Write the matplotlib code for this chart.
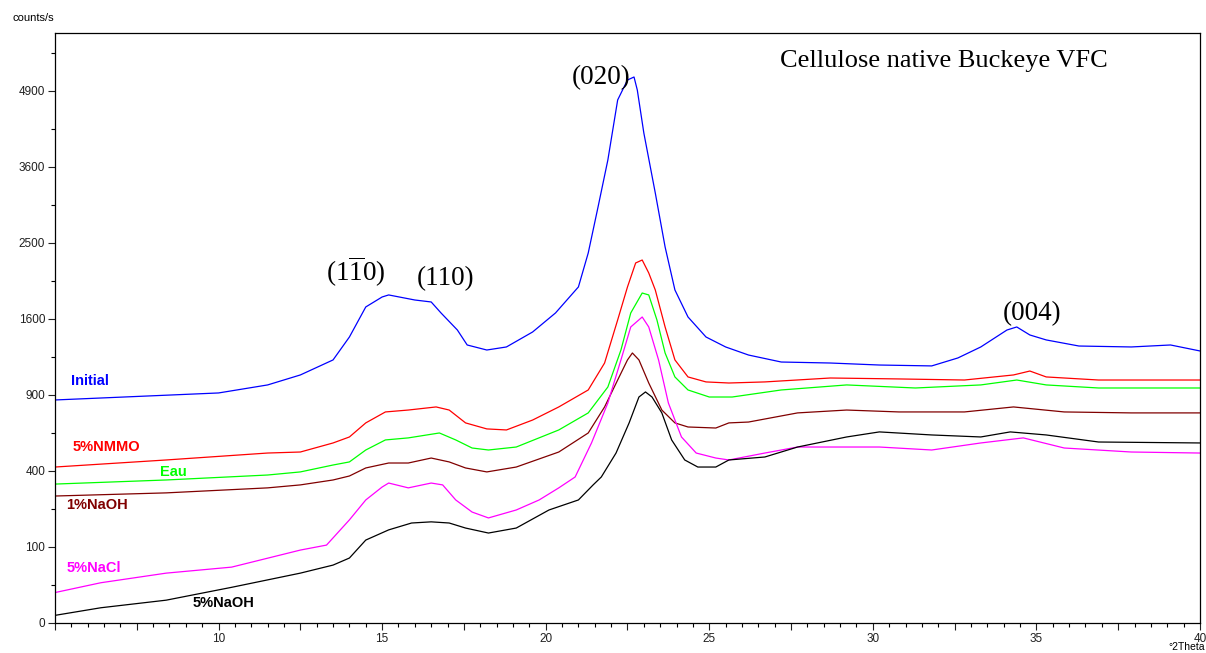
import matplotlib
matplotlib.use("Agg")
import matplotlib.pyplot as plt
import numpy as np
from matplotlib.ticker import MultipleLocator, FixedLocator, FuncFormatter

plt.rcParams['font.family'] = ['Liberation Sans', 'DejaVu Sans']
plt.rcParams['mathtext.fontset'] = 'custom'
plt.rcParams['mathtext.rm'] = 'Liberation Serif'

# values (2theta in degrees, intensity in counts/s)
tth_initial = [5, 10, 11.5, 12.5, 13.5, 14, 14.5, 15, 15.2, 16, 16.5, 16.8, 17.3, 17.6,
               18.2, 18.8, 19.6, 20.3, 21, 21.3, 21.6, 21.9, 22.2, 22.5, 22.7, 22.8, 23.0,
               23.35, 23.65, 23.95, 24.35, 24.9, 25.5, 26.2, 27.2, 28.7, 30.2, 31.8, 32.6,
               33.3, 34.1, 34.4, 34.8, 35.3, 36.3, 37.9, 39.1, 40]
cps_initial = [861, 916, 981, 1065, 1198, 1416, 1729, 1840, 1863, 1806, 1784, 1664, 1486, 1338,
               1290, 1319, 1466, 1664, 1955, 2370, 2996, 3711, 4736, 5105, 5161, 4918, 4157,
               3201, 2448, 1920, 1621, 1416, 1319, 1243, 1179, 1170, 1152, 1144, 1216,
               1319, 1486, 1517, 1436, 1387, 1328, 1319, 1338, 1281]

tth_nmmo = [5, 8.4, 11.5, 12.5, 13.5, 14, 14.5, 15.1, 15.8, 16.65, 17.05, 17.55, 18.2, 18.8,
            19.6, 20.4, 21.3, 21.8, 22.2, 22.5, 22.75, 22.95, 23.15, 23.35, 23.65, 23.95,
            24.35, 24.9, 25.6, 26.7, 28.7, 30.8, 32.8, 34.3, 34.8, 35.3, 36.9, 40]
cps_nmmo = [421, 460, 500, 506, 561, 599, 693, 771, 785, 808, 785, 693, 652, 645,
            713, 808, 940, 1170, 1590, 1955, 2244, 2281, 2121, 1920, 1517, 1198,
            1048, 1006, 997, 1006, 1039, 1031, 1022, 1065, 1099, 1048, 1022, 1022]

tth_eau = [5, 8.4, 11.5, 12.5, 13.5, 14, 14.5, 15.1, 15.8, 16.75, 17.25, 17.75, 18.25, 19.1,
           20.4, 21.3, 21.9, 22.3, 22.6, 22.95, 23.15, 23.4, 23.65, 23.95, 24.35, 25, 25.7,
           27.2, 29.2, 31.3, 33.3, 34.4, 35.3, 36.9, 40]
cps_eau = [334, 354, 379, 395, 432, 449, 518, 580, 593, 625, 580, 530, 518, 536,
           645, 764, 964, 1290, 1664, 1885, 1863, 1590, 1262, 1048, 940, 884, 884,
           940, 981, 956, 981, 1022, 981, 956, 956]

tth_naoh1 = [5, 8.4, 11.5, 12.5, 13.5, 14, 14.5, 15.2, 15.8, 16.5, 17.05, 17.55, 18.2, 19.1,
             20.4, 21.3, 21.8, 22.2, 22.5, 22.65, 22.85, 23.15, 23.55, 23.95, 24.35, 25.2,
             25.6, 26.2, 27.7, 29.2, 30.8, 32.8, 34.3, 35.85, 37.9, 40]
cps_naoh1 = [279, 293, 316, 330, 354, 374, 416, 443, 443, 471, 449, 416, 395, 421,
             506, 625, 808, 1022, 1198, 1262, 1198, 997, 785, 693, 665, 658,
             693, 699, 764, 785, 771, 771, 808, 771, 764, 764]

tth_nacl = [5, 6.4, 8.4, 10.4, 12.5, 13.3, 14, 14.5, 15, 15.2, 15.8, 16.5, 16.85, 17.25,
            17.75, 18.25, 19.1, 19.8, 20.4, 20.9, 21.4, 21.9, 22.3, 22.6, 22.95, 23.15,
            23.45, 23.75, 24.15, 24.6, 25.2, 25.6, 26.7, 27.7, 28.7, 30.2, 31.8, 33.3,
            34.6, 35.85, 37.9, 40]
cps_nacl = [16, 28, 43, 54, 92, 105, 184, 262, 320, 339, 316, 339, 330, 262,
            213, 191, 221, 262, 316, 369, 561, 838, 1198, 1517, 1621, 1517,
            1198, 838, 599, 500, 471, 460, 500, 536, 536, 536, 518, 561,
            593, 530, 506, 500]

tth_naoh5 = [5, 6.4, 8.4, 10.4, 12.5, 13.5, 14, 14.5, 15.2, 15.9, 16.5, 17.05, 17.55, 18.25,
             19.1, 20.1, 21, 21.45, 21.7, 22.15, 22.55, 22.85, 23.05, 23.25, 23.55, 23.85,
             24.25, 24.65, 25.2, 25.6, 26.7, 27.7, 29.2, 30.2, 31.8, 33.3, 34.2, 35.3,
             36.9, 40]
cps_naoh5 = [1, 4, 9, 22, 43, 58, 73, 119, 150, 173, 177, 173, 156, 140,
             156, 221, 262, 330, 369, 500, 693, 884, 924, 884, 764, 580,
             460, 421, 421, 460, 477, 536, 599, 632, 612, 599, 632, 612,
             567, 561]

series = [
    (tth_initial, cps_initial, '#0000ff'),
    (tth_nmmo, cps_nmmo, '#ff0000'),
    (tth_eau, cps_eau, '#00ff00'),
    (tth_naoh1, cps_naoh1, '#800000'),
    (tth_nacl, cps_nacl, '#ff00ff'),
    (tth_naoh5, cps_naoh5, '#000000'),
]

labels = ['Initial', '5%NMMO', 'Eau', '1%NaOH', '5%NaCl', '5%NaOH']
label_x = [5.5, 5.55, 8.2, 5.35, 5.35, 9.2]
label_y = [1014, 536, 395, 241, 52, 7]

peaks = [r'(1$\overline{\mathrm{1}}$0)', '(110)', '(020)', '(004)']
peak_x = [14.2, 16.95, 21.68, 34.88]
peak_y = [2133, 2049, 5142, 1653]

fig = plt.figure(figsize=(12.06, 6.53), dpi=100)
ax = fig.add_axes([0.0456, 0.046, 0.9494, 0.9035])

for x, y, c in series:
    ax.plot(x, y, color=c, lw=0.9)

ax.set_yscale('function', functions=(lambda v: np.sqrt(np.clip(v, 0, None)),
                                     lambda v: np.square(v)))
ax.set_xlim(5, 40)
ax.set_ylim(0, 6027)

ax.yaxis.set_major_locator(FixedLocator([0, 100, 400, 900, 1600, 2500, 3600, 4900]))
ax.yaxis.set_minor_locator(FixedLocator([25, 225, 625, 1225, 2025, 3025, 4225, 5625]))
ax.xaxis.set_major_locator(MultipleLocator(2.5))
ax.xaxis.set_minor_locator(MultipleLocator(0.5))
ax.xaxis.set_major_formatter(FuncFormatter(
    lambda v, p: f"{v:.0f}" if v % 5 == 0 and v > 5 else ""))
ax.tick_params(which='major', length=5, width=0.8, labelsize=8.5, pad=2, colors='#202020')
ax.tick_params(which='minor', length=3, width=0.8)
for s in ax.spines.values():
    s.set_linewidth(0.9)

for t, x, y, c in zip(labels, label_x, label_y, [s[2] for s in series]):
    ax.text(x, y, t, color=c, fontsize=10.5, fontweight='bold', va='center', ha='left')

for t, x, y in zip(peaks, peak_x, peak_y):
    ax.text(x, y, t, fontsize=19.5, family='Liberation Serif', ha='center', va='center')

ax.text(0.633, 0.9525, 'Cellulose native Buckeye VFC', transform=ax.transAxes,
        fontsize=19, family='Liberation Serif', ha='left', va='center')

fig.text(0.01, 0.972, 'counts/s', fontsize=8, ha='left', va='center')
fig.text(0.999, 0.001, '°2Theta', fontsize=7.5, ha='right', va='bottom')

fig.savefig('out.png', dpi=100)
